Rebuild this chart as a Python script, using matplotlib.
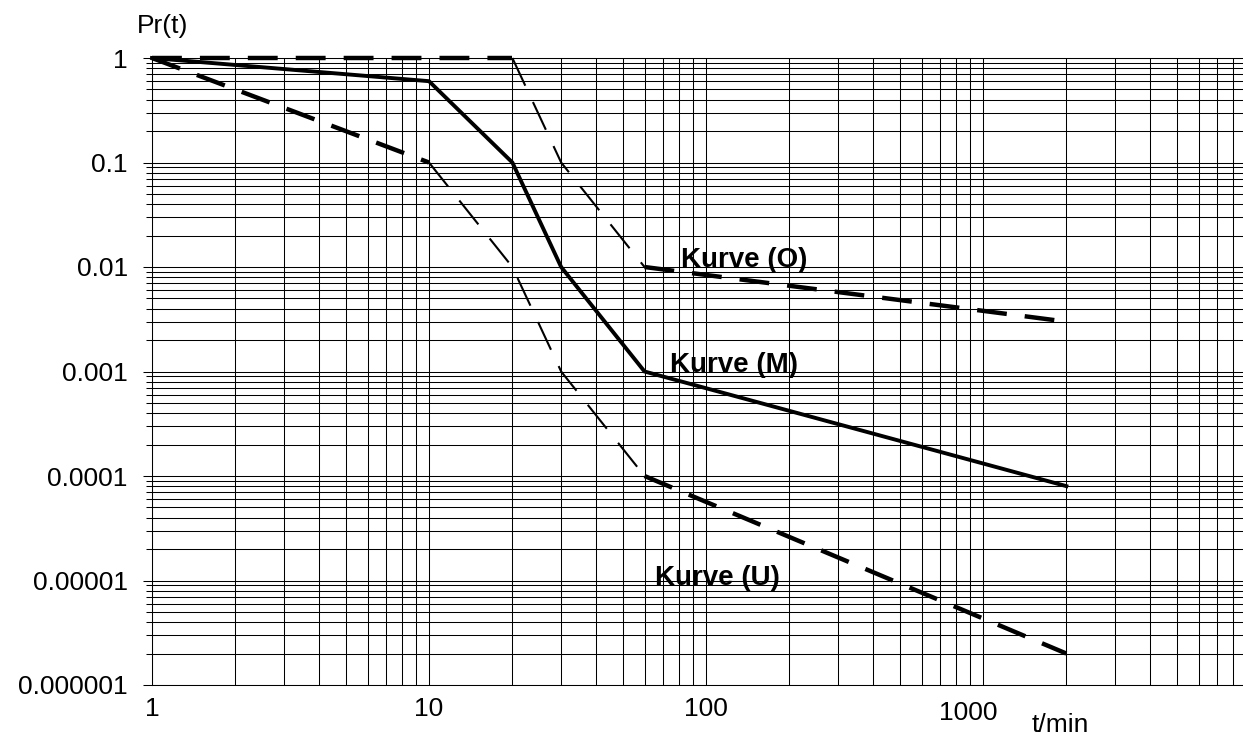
import numpy as np
import matplotlib
matplotlib.use("Agg")
import matplotlib.pyplot as plt
from matplotlib.ticker import FixedLocator, LogLocator, NullFormatter
from matplotlib.transforms import ScaledTranslation

plt.rcParams['font.family'] = ['Liberation Sans', 'DejaVu Sans']
plt.rcParams['lines.scale_dashes'] = False

# ---- data ----
t_m = [1, 10, 20, 30, 60, 2000]
p_m = [1, 0.6, 0.1, 0.01, 0.001, 8e-5]

t_o = [1, 20, 30, 60, 2000]
p_o = [1, 1, 0.1, 0.01, 0.003]

t_u = [1, 10, 20, 30, 60, 2000]
p_u = [1, 0.1, 0.01, 0.001, 1e-4, 2e-6]

x_ticks = [1, 10, 100, 1000]
x_tick_labels = ["1", "10", "100", "1000"]
y_ticks = [1, 0.1, 0.01, 0.001, 0.0001, 0.00001, 0.000001]
y_tick_labels = ["1", "0.1", "0.01", "0.001", "0.0001", "0.00001", "0.000001"]

label_o = ("Kurve (O)", 81, 0.01)
label_m = ("Kurve (M)", 74, 0.001)
label_u = ("Kurve (U)", 65.5, 9e-6)

# ---- figure ----
W, H = 1243, 736
fig = plt.figure(figsize=(W / 100, H / 100), dpi=100)
ax = fig.add_axes([152 / W, 1 - 685 / H, 1 - 152 / W, (685 - 58) / H])
ax.set_xscale('log')
ax.set_yscale('log')
ax.set_xlim(1, 8685)
ax.set_ylim(1e-6, 1)

ax.xaxis.set_major_locator(FixedLocator(x_ticks))
ax.xaxis.set_minor_locator(LogLocator(base=10, subs=np.arange(2, 10), numticks=20))
ax.xaxis.set_minor_formatter(NullFormatter())
ax.set_xticks(x_ticks, x_tick_labels)
ax.yaxis.set_minor_locator(LogLocator(base=10, subs=np.arange(2, 10), numticks=20))
ax.yaxis.set_minor_formatter(NullFormatter())
ax.set_yticks(y_ticks, y_tick_labels)

ax.grid(True, which='both', color='black', lw=0.75)
ax.set_axisbelow(True)

ax.tick_params(axis='x', which='both', length=0, pad=9, labelsize=19)
ax.tick_params(axis='y', which='major', direction='out', length=6.5, width=0.75,
               pad=11, labelsize=19)
ax.tick_params(axis='y', which='minor', direction='out', length=4.3, width=0.75)

# the "1000" label sits a little left of and below its gridline in the reference
ticks = ax.xaxis.get_major_ticks()
lbl = ticks[3].label1
lbl.set_transform(lbl.get_transform() + ScaledTranslation(-15 / 100, -4 / 100, fig.dpi_scale_trans))

for s in ['right']:
    ax.spines[s].set_visible(False)
for s in ['left', 'bottom', 'top']:
    ax.spines[s].set_linewidth(0.75)

thick = dict(color='black', lw=3.2, ls=(0, (21.5, 13)), dash_capstyle='butt', clip_on=False)
thin = dict(color='black', lw=1.5, ls=(0, (22, 13)), dash_capstyle='butt', clip_on=False)

# Kurve (M) solid
ax.plot(t_m, p_m, color='black', lw=2.8, solid_joinstyle='miter', clip_on=False, zorder=3)

# Kurve (O) dashed: flat parts thick, steep part thin
ax.plot(t_o[0:2], p_o[0:2], zorder=3, **thick)
ax.plot(t_o[1:4], p_o[1:4], zorder=3, **thin)
ax.plot(t_o[3:5], p_o[3:5], zorder=3, **thick)

# Kurve (U) dashed
ax.plot(t_u[0:2], p_u[0:2], zorder=3, **thick)
ax.plot(t_u[1:5], p_u[1:5], zorder=3, **thin)
ax.plot(t_u[4:6], p_u[4:6], zorder=3, **thick)

for txt, x, y in (label_o, label_m, label_u):
    ax.text(x, y, txt, fontsize=20, fontweight='bold', ha='left', va='baseline', zorder=4)

fig.text(163 / W, 1 - 33 / H, "Pr(t)", fontsize=19, ha='center', va='baseline')
fig.text(1060 / W, 1 - 732 / H, "t/min", fontsize=19, ha='center', va='baseline')

fig.savefig("out.png", dpi=100)
